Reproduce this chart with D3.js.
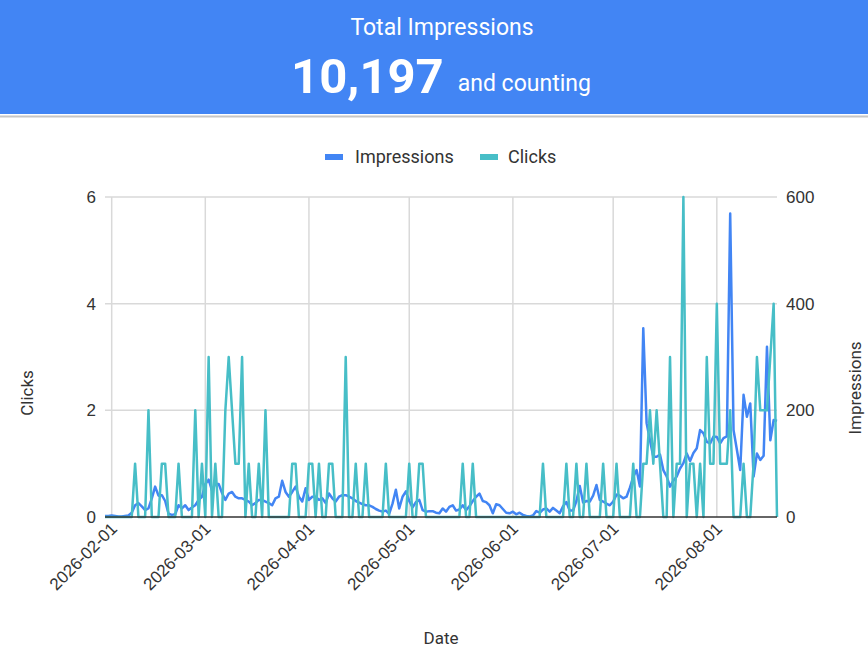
<!DOCTYPE html>
<html>
<head>
<meta charset="utf-8">
<script src="https://cdn.jsdelivr.net/npm/d3@7"></script>
<style>
  body { margin: 0; background: #fff; }
  svg { display: block; font-family: Roboto, "Noto Sans", sans-serif; }
</style>
</head>
<body>
<svg width="868" height="651"></svg>
<script>
// headline
var totalImpressions = 10197;

// one point per day, starting at this date
var startDate = "2026-01-30";

var impressions = [
  2, 2, 3, 2, 1, 1, 2, 3, 8, 22, 26, 20, 13, 16, 35, 57, 40, 41, 30, 6,
  4, 5, 22, 16, 22, 13, 18, 22, 32, 38, 62, 70, 50, 62, 62, 45, 32, 44, 47, 38,
  35, 35, 32, 29, 22, 26, 32, 32, 29, 26, 22, 35, 38, 68, 47, 38, 47, 57, 38, 29,
  54, 32, 38, 38, 32, 35, 26, 44, 35, 29, 38, 41, 41, 38, 35, 30, 27, 24, 22, 22,
  19, 15, 12, 10, 12, 6, 25, 51, 16, 38, 48, 30, 18, 28, 32, 13, 10, 11, 11, 8,
  7, 16, 10, 19, 22, 12, 14, 22, 13, 20, 30, 38, 44, 30, 28, 22, 7, 24, 22, 15,
  8, 7, 10, 5, 8, 4, 2, 1, 3, 11, 8, 14, 16, 10, 17, 12, 7, 20, 28, 12,
  12, 30, 58, 27, 30, 29, 40, 60, 32, 29, 25, 22, 29, 42, 40, 35, 38, 55, 75, 88,
  57, 354, 176, 144, 113, 113, 117, 88, 76, 57, 68, 76, 91, 101, 119, 105, 120, 129, 163, 157,
  141, 138, 151, 150, 138, 148, 151, 569, 163, 126, 88, 229, 188, 213, 76, 119, 107, 115, 319, 144,
  182, 180
];

var clicks = [
  0, 0, 0, 0, 0, 0, 0, 0, 0, 1, 0, 0, 0, 2, 0, 0, 0, 1, 1, 0,
  0, 0, 1, 0, 0, 0, 0, 2, 0, 1, 0, 3, 0, 1, 0, 0, 2, 3, 2, 1,
  1, 3, 0, 1, 0, 0, 1, 0, 2, 0, 0, 0, 0, 0, 0, 0, 1, 1, 0, 0,
  0, 1, 1, 0, 1, 0, 0, 1, 1, 0, 0, 0, 3, 0, 0, 1, 0, 0, 1, 0,
  0, 0, 0, 0, 1, 0, 0, 0, 0, 0, 0, 1, 0, 0, 1, 1, 0, 0, 0, 0,
  0, 0, 0, 0, 0, 0, 0, 1, 0, 0, 1, 0, 0, 0, 0, 0, 0, 0, 0, 0,
  0, 0, 0, 0, 0, 0, 0, 0, 0, 0, 0, 1, 0, 0, 0, 0, 0, 0, 1, 0,
  0, 1, 0, 0, 1, 0, 0, 0, 0, 1, 0, 0, 0, 1, 0, 0, 0, 0, 1, 0,
  0, 1, 1, 2, 1, 2, 1, 0, 0, 3, 0, 1, 1, 6, 0, 1, 1, 0, 1, 0,
  3, 1, 1, 4, 1, 1, 1, 2, 0, 0, 0, 1, 0, 0, 1, 3, 2, 2, 2, 3,
  4, 0
];

var monthTicks = ["2026-02-01", "2026-03-01", "2026-04-01", "2026-05-01",
                  "2026-06-01", "2026-07-01", "2026-08-01"];
var clickTicks = [0, 2, 4, 6];
var impressionTicks = [0, 200, 400, 600];

var seriesNames = ["Impressions", "Clicks"];
var seriesColors = ["#4285f4", "#47bec7"];

var parse = d3.timeParse("%Y-%m-%d");
var first = parse(startDate);
var data = impressions.map(function (v, i) {
  return { date: d3.timeDay.offset(first, i), impressions: v, clicks: clicks[i] };
});

var svg = d3.select("svg"),
    margin = { top: 197, right: 91, bottom: 134, left: 105 },
    width = 868 - margin.left - margin.right,
    height = 651 - margin.top - margin.bottom;

// header banner
svg.append("rect")
  .attr("width", 868).attr("height", 114)
  .attr("fill", "#4285f4");
svg.append("line")
  .attr("x1", 0).attr("x2", 868)
  .attr("y1", 116.5).attr("y2", 116.5)
  .attr("stroke", "#c6c6c6").attr("stroke-width", 2);
svg.append("text")
  .attr("x", 442).attr("y", 35)
  .attr("text-anchor", "middle")
  .attr("fill", "#fff")
  .attr("font-size", 23)
  .text("Total Impressions");
var big = svg.append("text")
  .attr("x", 441).attr("y", 93)
  .attr("text-anchor", "middle")
  .attr("fill", "#fff");
big.append("tspan")
  .attr("font-size", 49).attr("font-weight", "bold")
  .text(d3.format(",")(totalImpressions));
big.append("tspan")
  .attr("font-size", 23).attr("dx", 14).attr("dy", -2)
  .text("and counting");

// legend
var legendX = [325, 480];
var legend = svg.append("g").selectAll("g")
  .data(seriesNames)
  .enter().append("g")
  .attr("transform", function (d, i) { return "translate(" + legendX[i] + ",157)"; });
legend.append("rect")
  .attr("y", -3).attr("width", 18).attr("height", 6)
  .attr("fill", function (d, i) { return seriesColors[i]; });
legend.append("text")
  .attr("x", function (d, i) { return i ? 28 : 30; }).attr("dy", "0.35em")
  .attr("font-size", 18).attr("fill", "#333")
  .text(function (d) { return d; });

var g = svg.append("g").attr("transform", "translate(" + margin.left + "," + margin.top + ")");

var x = d3.scaleTime()
  .domain(d3.extent(data, function (d) { return d.date; }))
  .range([0, width]);
var yL = d3.scaleLinear().domain([0, 6]).range([height, 0]);
var yR = d3.scaleLinear().domain([0, 600]).range([height, 0]);

var ticks = monthTicks.map(parse);

// grid
g.append("g")
  .selectAll("line")
  .data(ticks)
  .enter().append("line")
  .attr("x1", x).attr("x2", x)
  .attr("y1", 0).attr("y2", height)
  .attr("stroke", "#d9d9d9").attr("stroke-width", 1.5);
g.append("g")
  .selectAll("line")
  .data(clickTicks.slice(1))
  .enter().append("line")
  .attr("x1", 0).attr("x2", width)
  .attr("y1", yL).attr("y2", yL)
  .attr("stroke", "#d9d9d9").attr("stroke-width", 1.5);

// lines
var lineImp = d3.line()
  .x(function (d) { return x(d.date); })
  .y(function (d) { return yR(d.impressions); });
var lineClk = d3.line()
  .x(function (d) { return x(d.date); })
  .y(function (d) { return yL(d.clicks); });

g.append("path").datum(data)
  .attr("fill", "none").attr("stroke", seriesColors[0])
  .attr("stroke-width", 2.5).attr("stroke-linejoin", "round")
  .attr("d", lineImp);
g.append("path").datum(data)
  .attr("fill", "none").attr("stroke", seriesColors[1])
  .attr("stroke-width", 2.5).attr("stroke-linejoin", "round")
  .attr("d", lineClk);

// baseline
g.append("line")
  .attr("x1", 0).attr("x2", width)
  .attr("y1", height).attr("y2", height)
  .attr("stroke", "#333").attr("stroke-width", 1.5);

// axes
var xAxis = g.append("g")
  .attr("transform", "translate(0," + height + ")")
  .call(d3.axisBottom(x).tickValues(ticks).tickSize(0).tickFormat(d3.timeFormat("%Y-%m-%d")));
xAxis.select(".domain").remove();
xAxis.selectAll("text")
  .attr("font-size", 17).attr("fill", "#333")
  .attr("text-anchor", "end")
  .attr("dx", "-0.2em").attr("dy", "0.1em")
  .attr("transform", "translate(5,7) rotate(-45)");

var leftAxis = g.append("g")
  .call(d3.axisLeft(yL).tickValues(clickTicks).tickSize(0).tickPadding(9).tickFormat(d3.format("d")));
leftAxis.select(".domain").remove();
leftAxis.selectAll("text").attr("font-size", 17).attr("fill", "#333");

var rightAxis = g.append("g")
  .attr("transform", "translate(" + width + ",0)")
  .call(d3.axisRight(yR).tickValues(impressionTicks).tickSize(0).tickPadding(9).tickFormat(d3.format("d")));
rightAxis.select(".domain").remove();
rightAxis.selectAll("text").attr("font-size", 17).attr("fill", "#333");

// axis titles
svg.append("text")
  .attr("transform", "translate(33,393) rotate(-90)")
  .attr("text-anchor", "middle")
  .attr("font-size", 17).attr("fill", "#333")
  .text("Clicks");
svg.append("text")
  .attr("transform", "translate(861,388) rotate(-90)")
  .attr("text-anchor", "middle")
  .attr("font-size", 17).attr("fill", "#333")
  .text("Impressions");
svg.append("text")
  .attr("x", 441).attr("y", 644)
  .attr("text-anchor", "middle")
  .attr("font-size", 17).attr("fill", "#333")
  .text("Date");
</script>
</body>
</html>
